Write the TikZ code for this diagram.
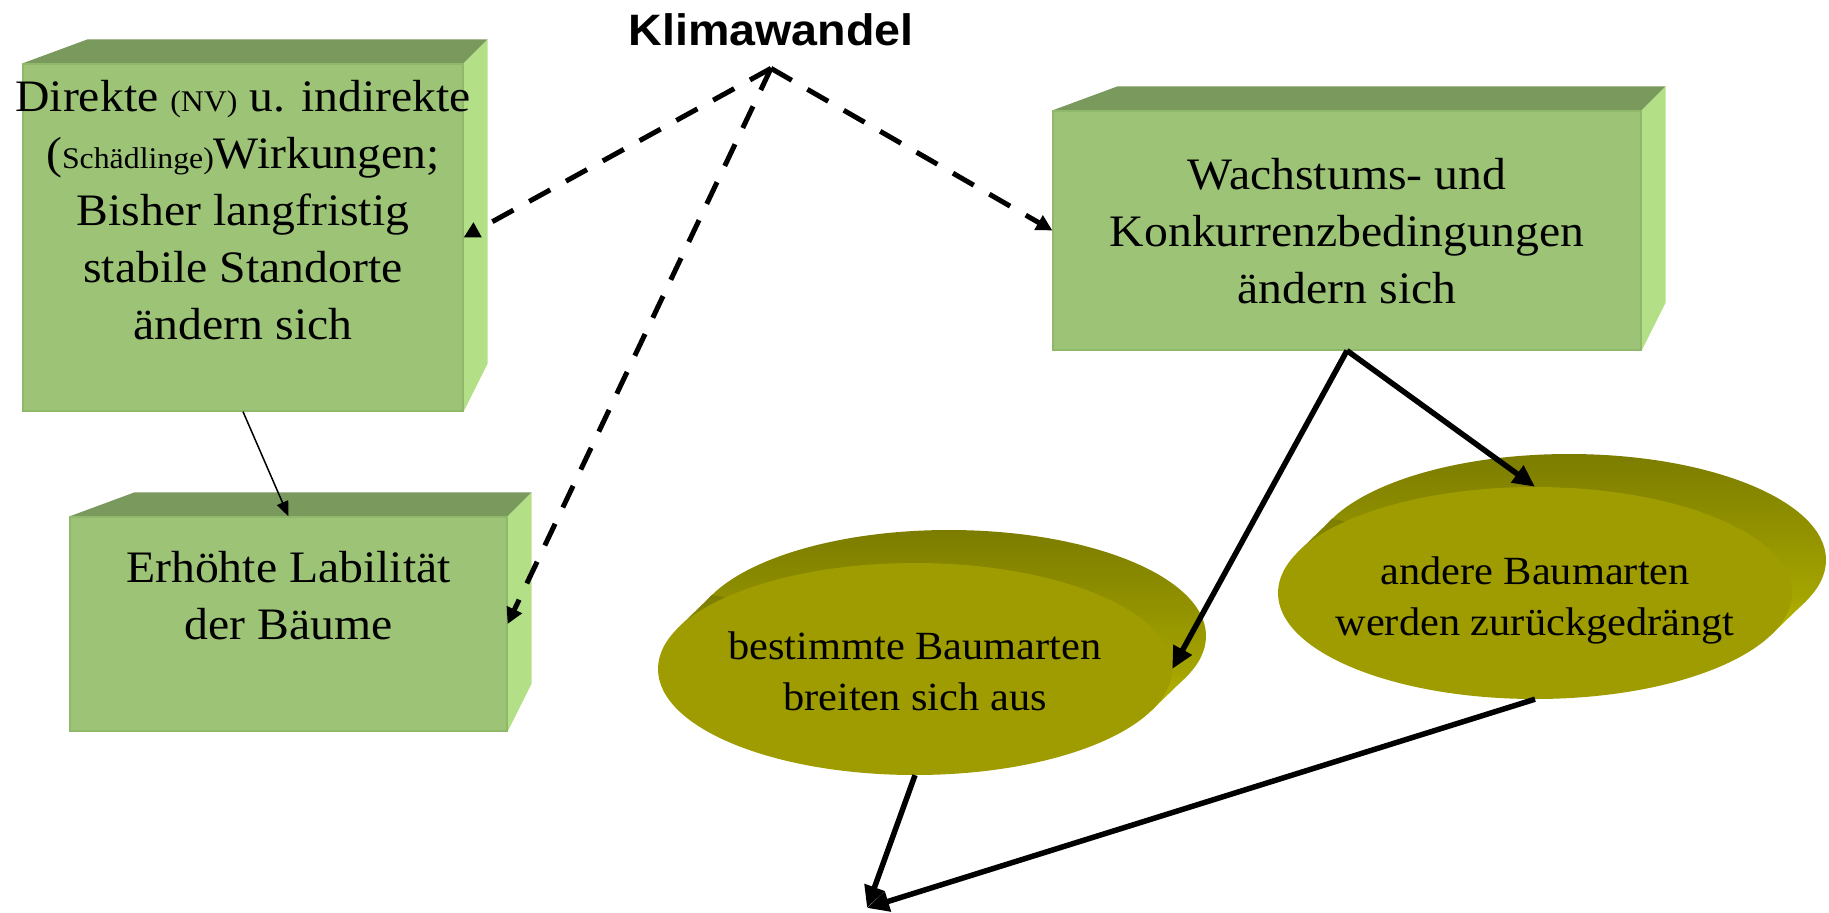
\documentclass[tikz,border=0pt]{standalone}
\usepackage{fontspec}
\setmainfont{Liberation Serif}[FakeStretch=1.06]
\newfontfamily\headfont{Liberation Sans}[FakeStretch=1.06]
\usetikzlibrary{positioning,shapes.geometric,arrows.meta,backgrounds}
\definecolor{boxfront}{HTML}{9DC376}
\definecolor{boxtop}{HTML}{7A995D}
\definecolor{boxside}{HTML}{B3E086}
\definecolor{boxedge}{HTML}{8FB86A}
\definecolor{ovalfront}{HTML}{9E9C00}
\definecolor{ovaldark}{HTML}{7C7C00}
\definecolor{ovallight}{HTML}{B8B800}

\begin{document}
\begin{tikzpicture}[x=1pt,y=-1pt,
        box node/.style={rectangle,fill=boxfront,draw=boxedge,line width=1.2pt,inner sep=0pt},
        oval node/.style={ellipse,fill=ovalfront,inner sep=0pt,minimum width=514pt,minimum height=212pt},
        text node/.style={align=center,inner sep=0pt,font=\fontsize{45}{57}\selectfont},
        small text/.style={align=center,inner sep=0pt,font=\fontsize{40}{51}\selectfont},
        dash line/.style={line width=5pt,dash pattern=on 24pt off 18pt,-{Triangle[length=16pt,width=16pt]}},
        thick line/.style={line width=5.5pt,-{Triangle[length=22pt,width=20pt]}},
        thin line/.style={line width=1.5pt,-{Triangle[length=15pt,width=12pt]}}]
    \useasboundingbox (0,0) rectangle (1829,913);

    \node[font=\headfont\bfseries\fontsize{44}{50}\selectfont,inner sep=0pt] (0) at (771,30) {Klimawandel};
    \coordinate[below=22pt of 0.south] (apex);

    \node[box node,minimum width=440pt,minimum height=347pt] (1) at (243,237.5) {};
    \node[box node,minimum width=437pt,minimum height=214pt] (2) at (288.5,624) {};
    \node[box node,minimum width=588pt,minimum height=239pt] (3) at (1347,230.5) {};
    \node[oval node] (4) at (915,669) {};
    \node[oval node] (5) at (1535,593) {};
    \coordinate (sink) at (867,908);

    \node[text node,below=17pt of 1.north] (1t) {Direkte {\fontsize{30}{30}\selectfont(NV)} u. indirekte\\({\fontsize{30}{30}\selectfont Schädlinge)}Wirkungen;\\Bisher langfristig\\stabile Standorte\\ändern sich};
    \node[text node,below=35pt of 2.north] (2t) {Erhöhte Labilität\\der Bäume};
    \node[text node,below=48pt of 3.north] (3t) {Wachstums- und\\Konkurrenzbedingungen\\ändern sich};
    \node[small text,yshift=-2.5pt] (4t) at (4) {bestimmte Baumarten\\breiten sich aus};
    \node[small text,yshift=-7pt] (5t) at (5) {andere Baumarten\\werden zurückgedrängt};

    % 3d faces behind the front faces
    \begin{scope}[on background layer]
        \foreach \b in {1,2,3} {
            \fill[boxtop] (\b.north west) -- ++(65,-24) -- ([shift={(24,-24)}]\b.north east) -- (\b.north east) -- cycle;
            \fill[boxside] (\b.north east) -- ++(24,-24) -- ([shift={(24,-48)}]\b.south east) -- (\b.south east) -- cycle;
        }
        \foreach \b in {4,5} {
            \shade[top color=ovaldark,bottom color=ovallight] ([shift={(34,-33)}]\b.center) ellipse [x radius=257pt,y radius=106pt];
            \shade[top color=ovaldark,bottom color=ovallight] ([shift={(237,41)}]\b.center) -- ++(34,-33) -- ([shift={(-203,-74)}]\b.center) -- ([shift={(-237,-41)}]\b.center) -- cycle;
        }
    \end{scope}

    \path[dash line]
    (apex) edge (1.east)
    (apex) edge (2.east)
    (apex) edge (3.west);
    \path[thin line] (1.south) edge (2.north);
    \path[thick line]
    (3.south) edge (4.east)
    (3.south) edge (5.north)
    (4.south) edge (sink)
    (5.south) edge (sink);
\end{tikzpicture}
\end{document}
